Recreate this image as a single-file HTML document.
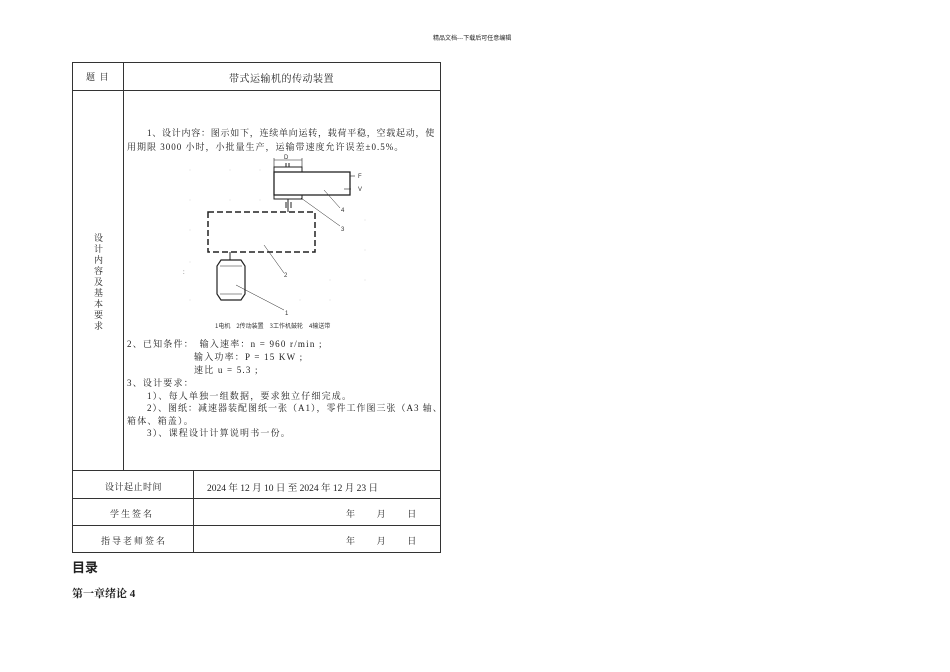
<!DOCTYPE html>
<html><head><meta charset="utf-8"><style>
body{margin:0;width:950px;height:672px;background:#fff;position:relative;font-family:"Liberation Serif","Noto Serif CJK SC",serif;color:#222;overflow:hidden}
.a{position:absolute;white-space:nowrap}
.s{font-family:"Liberation Serif","Noto Serif CJK SC",serif;font-size:9px;letter-spacing:1.2px}
.l{position:absolute;background:#333}
</style></head><body>
<div class="a" style="left:433px;top:33px;font-size:6px;font-family:'Noto Sans CJK SC',sans-serif">精品文档---下载后可任意编辑</div>
<div class="l" style="left:72px;top:62px;width:369px;height:1px"></div>
<div class="l" style="left:72px;top:90px;width:369px;height:1px"></div>
<div class="l" style="left:72px;top:470px;width:369px;height:1px"></div>
<div class="l" style="left:72px;top:498px;width:369px;height:1px"></div>
<div class="l" style="left:72px;top:525px;width:369px;height:1px"></div>
<div class="l" style="left:72px;top:552px;width:369px;height:1px"></div>
<div class="l" style="left:72px;top:62px;width:1px;height:491px"></div>
<div class="l" style="left:440px;top:62px;width:1px;height:491px"></div>
<div class="l" style="left:123px;top:62px;width:1px;height:409px"></div>
<div class="l" style="left:193px;top:470px;width:1px;height:83px"></div>
<div class="a s" style="left:86px;top:70px">题 目</div>
<div class="a s" style="left:229px;top:70px;font-size:10px;letter-spacing:0.5px">带式运输机的传动装置</div>
<div class="a s" style="left:94px;top:233px;width:10px;white-space:normal;line-height:11px;text-align:center">设计内容及基本要求</div>
<div class="a s" style="left:147px;top:126px;letter-spacing:0.75px">1、设计内容：图示如下，连续单向运转，载荷平稳，空载起动，使</div>
<div class="a s" style="left:127px;top:140px;letter-spacing:1px">用期限 3000 小时，小批量生产，运输带速度允许误差±0.5%。</div>
<svg class="a" style="left:180px;top:150px" width="200" height="185" viewBox="180 150 200 185">
<g fill="#ccc">
<circle cx="190" cy="170" r=".5"/><circle cx="230" cy="170" r=".5"/><circle cx="260" cy="170" r=".5"/><circle cx="190" cy="200" r=".5"/><circle cx="230" cy="200" r=".5"/><circle cx="260" cy="200" r=".5"/><circle cx="365" cy="220" r=".5"/><circle cx="365" cy="250" r=".5"/><circle cx="190" cy="230" r=".5"/><circle cx="190" cy="262" r=".5"/><circle cx="330" cy="280" r=".5"/><circle cx="365" cy="280" r=".5"/><circle cx="300" cy="300" r=".5"/><circle cx="330" cy="300" r=".5"/><circle cx="190" cy="300" r=".5"/>
</g>
<g stroke="#222" fill="none" stroke-width="1">
<rect x="274" y="167" width="28" height="5"/>
<rect x="274" y="172" width="76" height="23" stroke-width="1.3"/>
<rect x="274" y="195" width="28" height="4"/>
<line x1="274" y1="160" x2="302" y2="160" stroke-width=".6"/>
<line x1="274" y1="158" x2="274" y2="167" stroke-width=".6"/><line x1="302" y1="158" x2="302" y2="167" stroke-width=".6"/>
<line x1="286" y1="163" x2="286" y2="167"/><line x1="289" y1="163" x2="289" y2="167"/>
<line x1="286" y1="202" x2="286" y2="208"/><line x1="291" y1="202" x2="291" y2="208"/><line x1="288" y1="199" x2="288" y2="212"/>
<rect x="208" y="212" width="107" height="40" stroke-dasharray="6,3" stroke-width="1.5"/>
<line x1="230" y1="252" x2="230" y2="260"/>
<path d="M221 260 H241 L245 266 V294 L241 300 H221 L217 294 V266 Z" stroke-width="1.2"/>
<line x1="220" y1="266" x2="242" y2="266" stroke-width=".6"/><line x1="220" y1="294" x2="242" y2="294" stroke-width=".6"/>
<g stroke-width=".5"><line x1="236" y1="285" x2="284" y2="310"/><line x1="264" y1="245" x2="284" y2="273"/><line x1="301" y1="198" x2="340" y2="226"/><line x1="324" y1="190" x2="340" y2="208"/></g>
<line x1="350" y1="176" x2="355" y2="176" stroke-width=".6"/><line x1="344" y1="189" x2="351" y2="189" stroke-width=".6"/>
</g>
<g font-size="6" fill="#333" font-family="Liberation Sans,sans-serif"><text x="284" y="159">D</text><text x="358" y="178">F</text><text x="358" y="191">V</text><text x="341" y="212">4</text><text x="341" y="231">3</text><text x="284" y="277">2</text><text x="285" y="315">1</text><text x="183" y="274">:</text></g>
<text x="215" y="328" font-size="6" fill="#333" font-family="Noto Sans CJK SC,sans-serif">1电机　2传动装置　3工作机鼓轮　4输送带</text>
</svg>
<div class="a s" style="left:127px;top:337px">2、已知条件：　输入速率：n = 960 r/min ;</div>
<div class="a s" style="left:194px;top:350px">输入功率：P = 15 KW ;</div>
<div class="a s" style="left:194px;top:363px">速比 u = 5.3 ;</div>
<div class="a s" style="left:127px;top:376px">3、设计要求：</div>
<div class="a s" style="left:147px;top:389px">1）、每人单独一组数据，要求独立仔细完成。</div>
<div class="a s" style="left:147px;top:401px;letter-spacing:1px">2）、图纸：减速器装配图纸一张（A1），零件工作图三张（A3 轴、</div>
<div class="a s" style="left:127px;top:414px">箱体、箱盖）。</div>
<div class="a s" style="left:147px;top:426px">3）、课程设计计算说明书一份。</div>
<div class="a s" style="left:105px;top:480px;letter-spacing:.5px">设计起止时间</div>
<div class="a s" style="left:207px;top:480px;letter-spacing:0px;font-size:9.5px">2024 年 12 月 10 日 至 2024 年 12 月 23 日</div>
<div class="a s" style="left:110px;top:507px;letter-spacing:2px">学生签名</div>
<div class="a s" style="left:101px;top:534px;letter-spacing:2px">指导老师签名</div>
<div class="a s" style="left:346px;top:507px">年　　月　　日</div>
<div class="a s" style="left:346px;top:534px">年　　月　　日</div>
<div class="a" style="left:72px;top:557px;font-size:13px;font-weight:bold;font-family:'Liberation Sans','Noto Sans CJK SC',sans-serif">目录</div>
<div class="a" style="left:72px;top:585px;font-size:11px;font-weight:bold;font-family:'Liberation Serif','Noto Serif CJK SC',serif">第一章绪论 4</div>
</body></html>
